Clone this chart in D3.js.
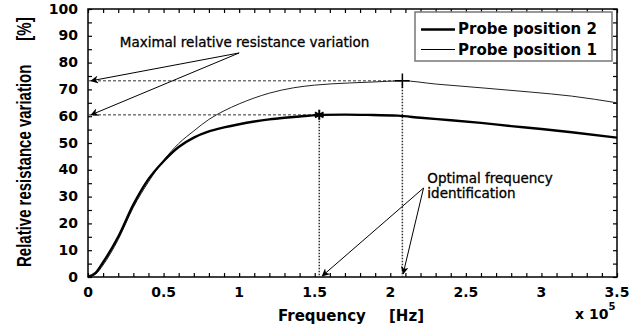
<!DOCTYPE html>
<html>
<head>
<meta charset="utf-8">
<script src="https://cdn.jsdelivr.net/npm/d3@7"></script>
<style>
  body { margin: 0; background: #fff; }
  text { font-family: "DejaVu Sans", sans-serif; }
</style>
</head>
<body>
<div id="chart"></div>
<script>
// frequency in units of 1e5 Hz, values in %
const freqP2 = [0, 0.05, 0.1, 0.2, 0.3, 0.4, 0.5, 0.6, 0.7, 0.8, 0.9, 1.0, 1.1, 1.2, 1.3, 1.4, 1.55, 1.7, 1.85, 2.05, 2.2, 2.4, 2.6, 2.8, 3.0, 3.2, 3.5]
const valsP2 = [0, 1.5, 5.5, 15, 27, 36.5, 43.2, 48.5, 52, 54.3, 55.8, 57, 58, 58.8, 59.4, 59.9, 60.5, 60.6, 60.5, 60.2, 59.4, 58.5, 57.5, 56.3, 55.2, 54, 52]
const freqP1 = [0, 0.05, 0.1, 0.2, 0.3, 0.4, 0.5, 0.6, 0.7, 0.8, 0.9, 1.0, 1.1, 1.2, 1.36, 1.5, 1.73, 1.9, 2.08, 2.3, 2.6, 2.93, 3.2, 3.5]
const valsP1 = [0, 1, 4.5, 14, 26, 35.5, 43.5, 49.8, 54.5, 58.8, 62, 64.6, 66.8, 68.6, 70.6, 71.6, 72.4, 72.8, 73.2, 72, 70.6, 69, 67.5, 65]

const xTicks = [0, 0.5, 1, 1.5, 2, 2.5, 3, 3.5]
const xTickLabels = ["0", "0.5", "1", "1.5", "2", "2.5", "3", "3.5"]
const yTicks = [0, 10, 20, 30, 40, 50, 60, 70, 80, 90, 100]

// maxima marked on the curves
const peakP2 = {f: 1.53, v: 60.5}
const peakP1 = {f: 2.08, v: 73.2}

const legendNames = ["Probe position 2", "Probe position 1"]

const width = 643, height = 334
const margin = {top: 9, right: 26, bottom: 57, left: 88}

const svg = d3.select("#chart").append("svg")
    .attr("width", width)
    .attr("height", height)

const x = d3.scaleLinear().domain([0, 3.5]).range([margin.left, width - margin.right])
const y = d3.scaleLinear().domain([0, 100]).range([height - margin.bottom, margin.top])

// box with ticks inside on all four sides
const minorX = d3.range(0, 3.5001, 0.1)
const minorY = d3.range(0, 100.001, 5)

svg.append("g")
    .attr("transform", "translate(0," + y(0) + ")")
    .call(d3.axisBottom(x).tickValues(minorX).tickSize(-4).tickFormat(""))
    .call(g => g.select(".domain").remove())
svg.append("g")
    .attr("transform", "translate(0," + y(100) + ")")
    .call(d3.axisTop(x).tickValues(minorX).tickSize(-4).tickFormat(""))
    .call(g => g.select(".domain").remove())
svg.append("g")
    .attr("transform", "translate(" + x(0) + ",0)")
    .call(d3.axisLeft(y).tickValues(minorY).tickSize(-4).tickFormat(""))
    .call(g => g.select(".domain").remove())
svg.append("g")
    .attr("transform", "translate(" + x(3.5) + ",0)")
    .call(d3.axisRight(y).tickValues(minorY).tickSize(-4).tickFormat(""))
    .call(g => g.select(".domain").remove())

svg.selectAll(".tick line").attr("stroke", "#000").attr("stroke-width", 1.2)

svg.append("rect")
    .attr("x", x(0))
    .attr("y", y(100))
    .attr("width", x(3.5) - x(0))
    .attr("height", y(0) - y(100))
    .attr("fill", "none")
    .attr("stroke", "#000")
    .attr("stroke-width", 1.5)

// tick labels
svg.append("g").selectAll("text")
    .data(xTicks)
    .enter().append("text")
    .attr("x", d => x(d))
    .attr("y", y(0) + 20)
    .attr("text-anchor", "middle")
    .attr("font-size", 14)
    .attr("font-weight", "bold")
    .text((d, i) => xTickLabels[i])

svg.append("g").selectAll("text")
    .data(yTicks)
    .enter().append("text")
    .attr("x", x(0) - 10)
    .attr("y", d => y(d) + 4.5)
    .attr("text-anchor", "end")
    .attr("font-size", 14)
    .attr("font-weight", "bold")
    .text(d => d)

// axis titles
svg.append("text")
    .attr("x", 278)
    .attr("y", 321)
    .attr("font-size", 15)
    .attr("font-weight", "bold")
    .text("Frequency")
svg.append("text")
    .attr("x", 389)
    .attr("y", 321)
    .attr("font-size", 15)
    .attr("font-weight", "bold")
    .text("[Hz]")

const expo = svg.append("text")
    .attr("x", 575)
    .attr("y", 319)
    .attr("font-size", 14)
    .attr("font-weight", "bold")
expo.append("tspan").text("x 10")
expo.append("tspan").attr("dy", -9).attr("font-size", 10).text("5")

svg.append("text")
    .attr("transform", "translate(31,267) scale(1.3,1) rotate(-90)")
    .style("font-family", "'Liberation Sans', Arial, sans-serif")
    .attr("font-size", 15)
    .attr("font-weight", "bold")
    .text("Relative resistance variation")
svg.append("text")
    .attr("transform", "translate(31,29) scale(1.3,1) rotate(-90)")
    .style("font-family", "'Liberation Sans', Arial, sans-serif")
    .attr("text-anchor", "middle")
    .attr("font-size", 15)
    .attr("font-weight", "bold")
    .text("[%]")

// guide lines to the maxima
svg.append("g")
    .selectAll("line")
    .data([peakP2, peakP1])
    .enter().append("line")
    .attr("x1", x(0))
    .attr("x2", d => x(d.f))
    .attr("y1", d => y(d.v))
    .attr("y2", d => y(d.v))
    .attr("stroke", "#333")
    .attr("stroke-width", 1)
    .attr("stroke-dasharray", "3,2")

svg.append("g")
    .selectAll("line")
    .data([peakP2, peakP1])
    .enter().append("line")
    .attr("x1", d => x(d.f))
    .attr("x2", d => x(d.f))
    .attr("y1", d => y(d.v))
    .attr("y2", y(0))
    .attr("stroke", "#333")
    .attr("stroke-width", 1.5)
    .attr("stroke-dasharray", "1.5,1.5")

// curves
const line = d3.line()
    .x(d => x(d[0]))
    .y(d => y(d[1]))
    .curve(d3.curveMonotoneX)

svg.append("path")
    .datum(d3.zip(freqP1, valsP1))
    .attr("d", line)
    .attr("fill", "none")
    .attr("stroke", "#222")
    .attr("stroke-width", 1)

svg.append("path")
    .datum(d3.zip(freqP2, valsP2))
    .attr("d", line)
    .attr("fill", "none")
    .attr("stroke", "#000")
    .attr("stroke-width", 2.4)

// peak markers
svg.append("path")
    .attr("transform", "translate(" + x(peakP2.f) + "," + y(peakP2.v) + ")")
    .attr("d", d3.symbol(d3.symbolAsterisk, 70)())
    .attr("fill", "none")
    .attr("stroke", "#000")
    .attr("stroke-width", 2)
svg.append("path")
    .attr("transform", "translate(" + x(peakP1.f) + "," + y(peakP1.v) + ")")
    .attr("d", d3.symbol(d3.symbolPlus, 70)())
    .attr("fill", "none")
    .attr("stroke", "#000")
    .attr("stroke-width", 1.5)

// annotations
svg.append("defs").append("marker")
    .attr("id", "arrow")
    .attr("viewBox", "0 0 10 10")
    .attr("refX", 9)
    .attr("refY", 5)
    .attr("markerWidth", 8)
    .attr("markerHeight", 8)
    .attr("orient", "auto")
    .attr("markerUnits", "userSpaceOnUse")
    .append("path")
    .attr("d", "M0,0 L10,5 L0,10 L3,5 Z")
    .attr("fill", "#000")

const maxStart = {f: 1.0, v: 83.6}
const maxEnds = [{f: 0.02, v: peakP1.v}, {f: 0.02, v: peakP2.v}]
svg.append("g").selectAll("line")
    .data(maxEnds)
    .enter().append("line")
    .attr("x1", x(maxStart.f))
    .attr("y1", y(maxStart.v))
    .attr("x2", d => x(d.f))
    .attr("y2", d => y(d.v))
    .attr("stroke", "#000")
    .attr("stroke-width", 1)
    .attr("marker-end", "url(#arrow)")

svg.append("text")
    .attr("x", x(0.21))
    .attr("y", y(85.8))
    .attr("font-size", 13.5)
    .attr("stroke", "#000")
    .attr("stroke-width", 0.3)
    .text("Maximal relative resistance variation")

const optStart = {f: 2.22, v: 33.2}
const optEnds = [{f: 1.55, v: 0.4}, {f: 2.085, v: 1.2}]
svg.append("g").selectAll("line")
    .data(optEnds)
    .enter().append("line")
    .attr("x1", x(optStart.f))
    .attr("y1", y(optStart.v))
    .attr("x2", d => x(d.f))
    .attr("y2", d => y(d.v))
    .attr("stroke", "#000")
    .attr("stroke-width", 1)
    .attr("marker-end", "url(#arrow)")

svg.append("text")
    .attr("x", x(2.245))
    .attr("y", y(35.2))
    .attr("font-size", 13.5)
    .attr("stroke", "#000")
    .attr("stroke-width", 0.3)
    .text("Optimal frequency")
svg.append("text")
    .attr("x", x(2.245))
    .attr("y", y(29.6))
    .attr("font-size", 13.5)
    .attr("stroke", "#000")
    .attr("stroke-width", 0.3)
    .text("identification")

// legend
const legend = svg.append("g").attr("transform", "translate(415,12)")
legend.append("rect")
    .attr("width", 197)
    .attr("height", 49)
    .attr("fill", "#fff")
    .attr("stroke", "#777")
    .attr("stroke-width", 1.5)

legend.selectAll(".legend-line")
    .data(legendNames)
    .enter().append("line")
    .attr("class", "legend-line")
    .attr("x1", 6)
    .attr("x2", 40)
    .attr("y1", (d, i) => 17.5 + i * 20)
    .attr("y2", (d, i) => 17.5 + i * 20)
    .attr("stroke", "#000")
    .attr("stroke-width", (d, i) => i == 0 ? 2.4 : 1)

legend.selectAll(".legend-text")
    .data(legendNames)
    .enter().append("text")
    .attr("class", "legend-text")
    .attr("x", 43)
    .attr("y", (d, i) => 21.5 + i * 21.5)
    .attr("font-size", 15)
    .attr("font-weight", "bold")
    .text(d => d)
</script>
</body>
</html>
